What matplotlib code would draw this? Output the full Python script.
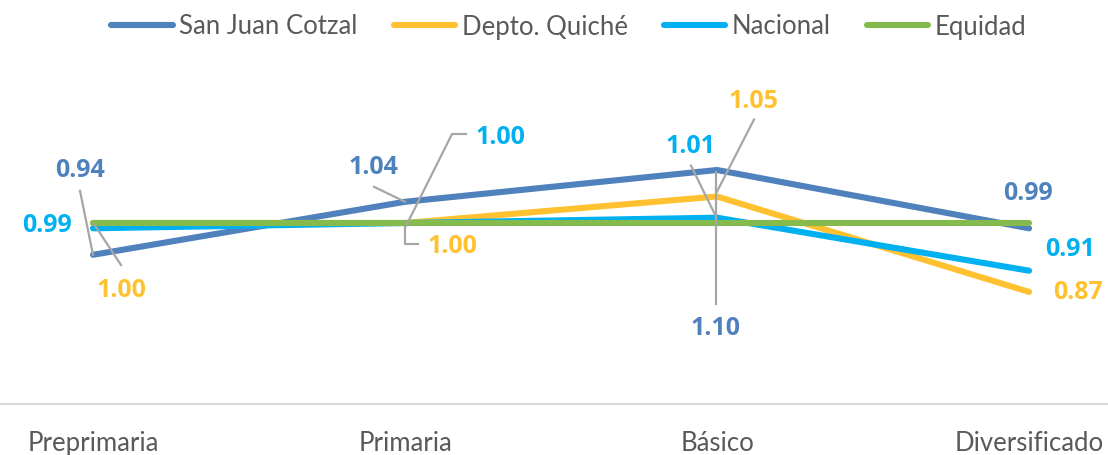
import matplotlib
matplotlib.use("Agg")
import matplotlib.pyplot as plt
from matplotlib.lines import Line2D
from matplotlib.transforms import IdentityTransform

# ── data ─────────────────────────────────────────────────────────────────────
CATEGORIES = ["Preprimaria", "Primaria", "Básico", "Diversificado"]
SAN_JUAN   = [0.94, 1.04, 1.10, 0.99]
QUICHE     = [1.00, 1.00, 1.05, 0.87]
NACIONAL   = [0.99, 1.00, 1.01, 0.91]
EQUIDAD    = [1.00, 1.00, 1.00, 1.00]

# ── style ────────────────────────────────────────────────────────────────────
C_SJ, C_Q, C_N, C_E = "#4F81BD", "#FFC12F", "#00B0F0", "#84BB4C"
TEXT_GREY = "#595959"
LEADER = "#A6A6A6"
TEXT_FONT = ["Lato", "DejaVu Sans"]
LABEL_FONT = ["Open Sans", "DejaVu Sans"]

# data label offsets in pixels (dx, dy up) from each point
LABEL_OFF = {
    "sj": [(-13, 85), (-32, 35), (-2, -158), (-1, 36)],
    "q":  [(28, -67), (47, -23), (36, 96), (49, 0)],
    "n":  [(-46, 4), (95, 86), (-27, 72), (41, 22)],
}
# leader polylines (pixel offsets from the point), None = no leader
LEADERS = {
    "sj": [[(-13, 64), (0, 0)], [(-31, 15), (0, 0)], [(-1, -2), (-1, -134)], None],
    "q":  [[(1, -1), (28, -42)], [(0, -4), (0, -21), (13, -21)], [(37, 77), (0, 5)], None],
    "n":  [None, [(61, 89), (47, 89), (1, -3)], [(-26, 52), (-1, 1)], None],
}

W, H, DPI = 1108, 456, 100
fig = plt.figure(figsize=(W / DPI, H / DPI), dpi=DPI)
ax = fig.add_axes([0, 51 / H, 1, 345 / H])
ax.set_xlim(-0.298, 3.253)
ax.set_ylim(1 - 181 / 530, 1 + 164 / 530)

x = list(range(len(CATEGORIES)))
series = [
    ("sj", "San Juan Cotzal", SAN_JUAN, C_SJ),
    ("q", "Depto. Quiché", QUICHE, C_Q),
    ("n", "Nacional", NACIONAL, C_N),
    ("e", "Equidad", EQUIDAD, C_E),
]
for key, name, vals, col in series:
    ax.plot(x, vals, color=col, lw=4.4, solid_capstyle="round",
            solid_joinstyle="round", label=name)

fig.canvas.draw()

for key, name, vals, col in series:
    if key not in LABEL_OFF:
        continue
    for i, v in enumerate(vals):
        dx, dy = LABEL_OFF[key][i]
        ax.annotate(f"{v:.2f}", (i, v), xytext=(dx, dy), textcoords="offset pixels",
                    ha="center", va="center", fontsize=18, fontweight="bold",
                    color=col, family=LABEL_FONT)
        pts = LEADERS[key][i]
        if pts:
            px, py = ax.transData.transform((i, v))
            ax.add_line(Line2D([px + a for a, b in pts], [py + b for a, b in pts],
                               transform=IdentityTransform(), color=LEADER,
                               lw=1.6, zorder=5))

# axes cosmetics
for s in ("top", "left", "right"):
    ax.spines[s].set_visible(False)
ax.spines["bottom"].set_color("#D9D9D9")
ax.spines["bottom"].set_linewidth(1.6)
ax.set_yticks([])
ax.set_xticks(x)
ax.set_xticklabels(CATEGORIES, color=TEXT_GREY, fontsize=18.5, family=TEXT_FONT)
ax.tick_params(axis="x", length=0, pad=19)

handles = [Line2D([0], [0], color=c, lw=4.4, solid_capstyle="round")
           for _, _, _, c in series]
leg = fig.legend(handles, [s[1] for s in series], loc="center",
                 bbox_to_anchor=(0.5135, 1 - 27 / H), ncol=4, frameon=False,
                 handlelength=2.4, handletextpad=0.25, columnspacing=1.4,
                 prop={"family": TEXT_FONT, "size": 18.5})
for t in leg.get_texts():
    t.set_color(TEXT_GREY)

fig.savefig("out.png", dpi=DPI)
